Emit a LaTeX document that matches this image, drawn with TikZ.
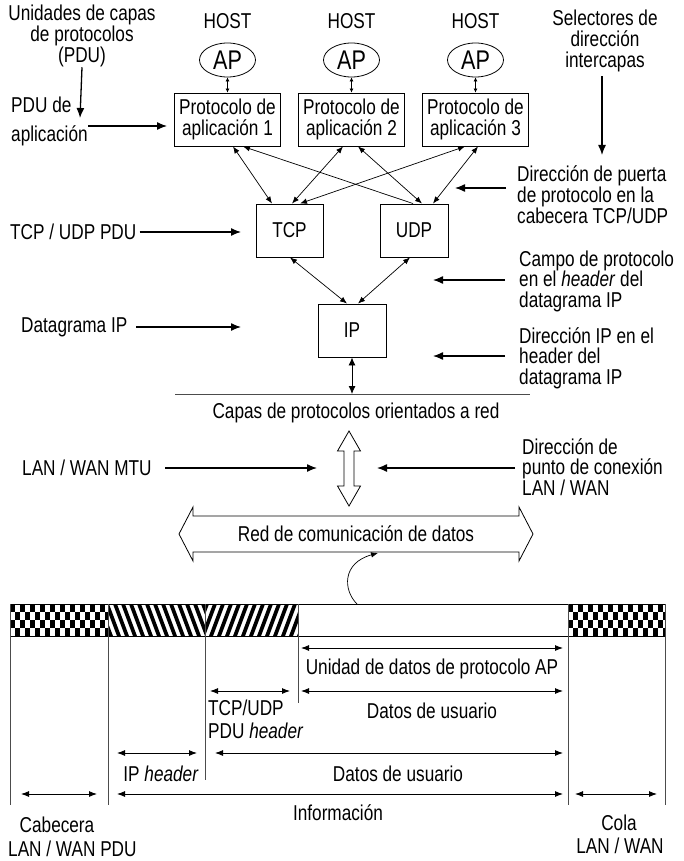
\documentclass[tikz,border=0pt]{standalone}
\usepackage{fontspec}
\setmainfont{Liberation Sans}[FakeStretch=0.8]
\usetikzlibrary{arrows.meta,shapes.geometric,calc}

\begin{document}
\begin{tikzpicture}[x=1pt,y=-1pt,
  lbl/.style={inner sep=0pt, font=\fontsize{21.5}{21}\selectfont},
  tbox/.style={draw, line width=0.9pt, inner sep=0pt, align=center,
    font=\fontsize{21.5}{21}\selectfont},
  apnode/.style={draw, ellipse, line width=0.8pt, inner sep=0pt,
    minimum width=56pt, minimum height=34pt, font=\fontsize{27}{28}\selectfont},
  tiny/.style={line width=0.6pt, {Latex[length=4pt,width=4pt]}-{Latex[length=4pt,width=4pt]}},
  thin/.style={line width=0.7pt, {Latex[length=7pt,width=5.5pt]}-{Latex[length=7pt,width=5.5pt]}},
  pointer/.style={line width=1.3pt, -{Latex[length=10pt,width=8pt]}},
  span/.style={line width=0.9pt, {Latex[length=8pt,width=6pt]}-{Latex[length=8pt,width=6pt]}},
  rule/.style={line width=1pt, black!70},
  hollow/.style={line width=0.8pt, fill=white}
]
\useasboundingbox (0,0) rectangle (683,861);

% ---------- application layer ----------
\foreach \n/\x in {1/227.5,2/351.5,3/475.5}{
  \node[lbl] (host\n) at (\x,21) {HOST};
  \node[apnode] (ap\n) at (\x,60) {AP};
  \node[tbox, minimum width=106pt, minimum height=53pt] (p\n) at (\x,119.5)
    {Protocolo de\\aplicación \n};
  \draw[tiny] (ap\n.south) -- (p\n.north);
}

% ---------- transport and network boxes ----------
\node[tbox, minimum width=67pt, minimum height=53pt] (tcp) at (289.5,230.5) {TCP};
\node[tbox, minimum width=68pt, minimum height=53pt] (udp) at (414,230.5) {UDP};
\node[tbox, minimum width=68pt, minimum height=53pt] (ip) at (352,330.5) {IP};

% address selectors between layers
\draw[thin] ([xshift=5.5pt]p1.south) -- ([xshift=-17.5pt]tcp.north);
\draw[line width=0.7pt, -{Latex[length=7pt,width=5.5pt]}] ([xshift=-1pt]udp.north) -- ([xshift=15.5pt]p1.south);
\draw[thin] ([xshift=-8.5pt]p2.south) -- ([xshift=2.5pt]tcp.north);
\draw[thin] ([xshift=6.5pt]p2.south) -- ([xshift=8pt]udp.north);
\draw[thin] ([xshift=-10.5pt]p3.south) -- ([xshift=10.5pt]tcp.north);
\draw[thin] ([xshift=2.5pt]p3.south) -- ([xshift=19pt]udp.north);
\draw[thin] ([xshift=0.5pt]tcp.south) -- ([xshift=-5pt]ip.north);
\draw[thin] ([xshift=-4pt]udp.south) -- ([xshift=6pt]ip.north);

% network boundary
\coordinate (nl) at (175,394);
\coordinate (nr) at (530,394);
\coordinate (nm) at (352,394);
\draw[rule] (nl) -- (nr);
\draw[line width=0.9pt, {Latex[length=8pt,width=7pt]}-{Latex[length=8pt,width=7pt]}] (ip.south) -- (nm);
\node[lbl] (capas) at (356,413) {Capas de protocolos orientados a red};

% ---------- left-hand labels ----------
\node[lbl, align=center, font=\fontsize{21.5}{16}\selectfont] (units) at (82,36)
  {Unidades de capas\\de protocolos\\(PDU)};
\coordinate (unitsEnd) at (80,118);
\draw[pointer] (units.south) -- (unitsEnd);

\node[lbl, align=left, anchor=west, font=\fontsize{21.5}{29}\selectfont] (pduapp) at (11,121)
  {PDU de\\aplicación};
\coordinate (pduA) at (88,126);
\coordinate (pduB) at (167,126);
\draw[pointer] (pduA) -- (pduB);

\node[lbl, anchor=west] (tcpudp) at (10,232) {TCP / UDP PDU};
\coordinate (tuB) at (241,232);
\draw[pointer] (tcpudp.east) ++(3,0) coordinate (tuA) (tuA) -- (tuB);

\node[lbl, anchor=west] (dgram) at (21,327) {Datagrama IP};
\coordinate (dgA) at (136,327);
\coordinate (dgB) at (241,327);
\draw[pointer] (dgA) -- (dgB);

\node[lbl, anchor=west] (mtu) at (22,468) {LAN / WAN MTU};
\coordinate (mtuA) at (165,468);
\coordinate (mtuB) at (317,468);
\draw[pointer] (mtuA) -- (mtuB);

% ---------- right-hand labels ----------
\node[lbl, align=center] (sel) at (605,41) {Selectores de\\dirección\\intercapas};
\coordinate (selEnd) at (602,155);
\draw[pointer] (sel.south) ++(-3,4) coordinate (selA) (selA) -- (selEnd);

\node[lbl, align=left, anchor=west, font=\fontsize{21.5}{20}\selectfont] (puerta) at (517,195)
  {Dirección de puerta\\de protocolo en la\\cabecera TCP/UDP};
\coordinate (puA) at (506,188);
\coordinate (puB) at (455,188);
\draw[pointer] (puA) -- (puB);

\node[lbl, align=left, anchor=west, font=\fontsize{21.5}{20.5}\selectfont] (campo) at (519,281)
  {Campo de protocolo\\en el \textit{header} del\\datagrama IP};
\coordinate (caA) at (505,280);
\coordinate (caB) at (433,280);
\draw[pointer] (caA) -- (caB);

\node[lbl, align=left, anchor=west, font=\fontsize{21.5}{20.5}\selectfont] (dirip) at (519,358)
  {Dirección IP en el\\header del\\datagrama IP};
\coordinate (diA) at (505,356);
\coordinate (diB) at (433,356);
\draw[pointer] (diA) -- (diB);

\node[lbl, align=left, anchor=west, font=\fontsize{21.5}{20}\selectfont] (punto) at (522,467)
  {Dirección de\\punto de conexión\\LAN / WAN};
\coordinate (ptA) at (515,468);
\coordinate (ptB) at (377,468);
\draw[pointer] (ptA) -- (ptB);

% ---------- hollow arrows ----------
\draw[hollow] (349,431) -- (360.5,451) -- (354,451) -- (354,486) -- (360.5,486)
  -- (349,506) -- (337.5,486) -- (344,486) -- (344,451) -- (337.5,451) -- cycle;

\draw[hollow] (179,534) -- (193,507) -- (193,516) -- (519,516) -- (519,507)
  -- (533,534) -- (519,561) -- (519,552) -- (193,552) -- (193,561) -- cycle;
\node[lbl] (red) at (356,534) {Red de comunicación de datos};

% ---------- frame strip ----------
\coordinate (curveStart) at (357,604);
\coordinate (curveEnd) at (378,553);
\draw[line width=0.7pt, -{Latex[length=7pt,width=5.5pt]}]
  (curveStart) .. controls (343,590) and (342,563) .. (curveEnd);

% header checker
\begin{scope}
  \clip (10,604) rectangle (108,636);
  \foreach \c in {0,...,19}{
    \foreach \r in {0,...,3}{
      \pgfmathtruncatemacro\chk{mod(\c+\r,2)}
      \ifnum\chk=0 \fill ({10+5*\c},{604+8*\r}) rectangle ++(5,8); \fi
    }
  }
\end{scope}
% trailer checker
\begin{scope}
  \clip (568,604) rectangle (665,636);
  \foreach \c in {0,...,19}{
    \foreach \r in {0,...,3}{
      \pgfmathtruncatemacro\chk{mod(\c+\r,2)}
      \ifnum\chk=0 \fill ({568+5*\c},{604+8*\r}) rectangle ++(5,8); \fi
    }
  }
\end{scope}
% IP header stripes
\begin{scope}
  \clip (108,604) rectangle (205,636);
  \foreach \s in {89,97,...,201}{
    \fill (\s,604) -- ++(4,0) -- ++(12,32) -- ++(-4,0) -- cycle;
  }
\end{scope}
% TCP/UDP header stripes
\begin{scope}
  \clip (205,604) rectangle (298,636);
  \foreach \s in {205,213,...,317}{
    \fill (\s,604) -- ++(4,0) -- ++(-12,32) -- ++(-4,0) -- cycle;
  }
\end{scope}
\draw[line width=0.9pt] (10,604) rectangle (665,636);

% field boundaries
\draw[rule] (10,604) -- (10,805);
\draw[rule] (108,604) -- (108,805);
\draw[rule] (205,604) -- (205,780);
\draw[rule] (298,604) -- (298,703);
\draw[rule] (568,604) -- (568,805);
\draw[rule] (665,604) -- (665,805);

% ---------- field extents ----------
\coordinate (uA) at (301,648); \coordinate (uB) at (563,648);
\draw[span] (uA) -- (uB);
\node[lbl] (unidad) at (432,669) {Unidad de datos de protocolo AP};

\coordinate (d1A) at (301,691); \coordinate (d1B) at (563,691);
\draw[span] (d1A) -- (d1B);
\node[lbl] (datos1) at (432,711) {Datos de usuario};

\coordinate (tA) at (210,691); \coordinate (tB) at (290,691);
\draw[span] (tA) -- (tB);
\node[lbl, align=left, anchor=north west, font=\fontsize{21.5}{23}\selectfont] (tcph) at (208,700)
  {TCP/UDP\\PDU \textit{header}};

\coordinate (d2A) at (215,753); \coordinate (d2B) at (563,753);
\draw[span] (d2A) -- (d2B);
\node[lbl] (datos2) at (398,774) {Datos de usuario};

\coordinate (iA) at (117,753); \coordinate (iB) at (197,753);
\draw[span] (iA) -- (iB);
\node[lbl] (iph) at (161,774) {IP \textit{header}};

\coordinate (nA) at (117,794); \coordinate (nB) at (563,794);
\draw[span] (nA) -- (nB);
\node[lbl] (info) at (338,813) {Información};

\coordinate (cA) at (21,794); \coordinate (cB) at (97,794);
\draw[span] (cA) -- (cB);
\node[lbl] (cab) at (57,825) {Cabecera};
\node[lbl, anchor=west] (cabl) at (8,849) {LAN / WAN PDU};

\coordinate (kA) at (575,794); \coordinate (kB) at (657,794);
\draw[span] (kA) -- (kB);
\node[lbl] (cola) at (619,823) {Cola};
\node[lbl] (colal) at (620,846) {LAN / WAN};
\end{tikzpicture}
\end{document}
